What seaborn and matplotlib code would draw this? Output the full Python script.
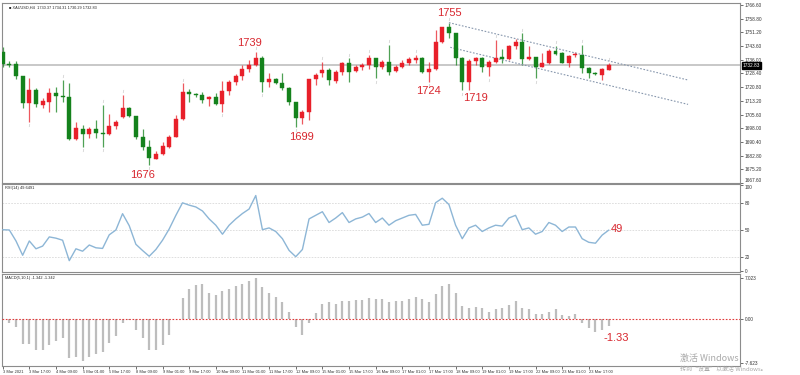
import numpy as np
import pandas as pd
import matplotlib
matplotlib.use("Agg")
import matplotlib.pyplot as plt
import seaborn as sns

# ---------------- data ----------------
opens = [1740.5, 1733.7, 1733.7, 1727.0, 1711.9, 1719.3, 1710.9, 1712.8, 1717.4, 1716.1,
         1715.2, 1691.9, 1697.4, 1694.9, 1697.4, 1695.6, 1694.9, 1699.3, 1704.1, 1709.5,
         1704.8, 1693.4, 1687.5, 1681.0, 1683.8, 1687.5, 1693.4, 1703.2, 1718.3, 1717.0,
         1716.5, 1714.1, 1715.5, 1711.5, 1718.8, 1723.8, 1727.0, 1730.7, 1732.9, 1736.8,
         1723.5, 1725.1, 1722.9, 1720.1, 1712.7, 1703.5, 1707.2, 1725.1, 1728.8, 1730.3,
         1724.4, 1729.4, 1734.4, 1729.9, 1732.2, 1732.9, 1736.8, 1731.8, 1734.9, 1729.6,
         1732.2, 1734.4, 1735.9, 1736.8, 1729.4, 1730.7, 1746.0, 1754.0, 1750.7, 1736.8,
         1723.8, 1735.5, 1737.2, 1731.8, 1734.9, 1737.7, 1736.6, 1743.6, 1746.0, 1736.2,
         1737.7, 1732.2, 1734.0, 1741.0, 1739.9, 1734.0, 1738.6, 1738.6, 1731.2, 1728.8,
         1727.5, 1730.37]
highs = [1743.3, 1735.5, 1735.5, 1727.0, 1725.7, 1720.2, 1714.6, 1720.2, 1721.1, 1724.8,
         1723.0, 1701.7, 1699.9, 1698.6, 1702.6, 1710.9, 1706.0, 1702.6, 1716.5, 1710.0,
         1704.8, 1697.4, 1691.5, 1685.6, 1690.6, 1694.3, 1705.4, 1723.0, 1719.6, 1717.8,
         1718.3, 1716.0, 1717.4, 1724.4, 1724.8, 1728.1, 1733.1, 1735.9, 1740.5, 1738.1,
         1728.8, 1725.7, 1728.5, 1720.7, 1712.7, 1708.1, 1725.1, 1728.5, 1734.9, 1731.2,
         1730.3, 1734.9, 1736.8, 1733.1, 1734.4, 1738.6, 1736.8, 1735.9, 1744.2, 1733.1,
         1735.9, 1737.7, 1738.6, 1737.7, 1734.9, 1752.5, 1754.4, 1756.6, 1751.1, 1737.7,
         1736.2, 1737.7, 1737.7, 1735.9, 1747.0, 1741.8, 1744.2, 1747.3, 1750.7, 1743.6,
         1737.7, 1739.6, 1741.8, 1743.6, 1740.5, 1738.6, 1740.5, 1744.2, 1732.2, 1729.4,
         1731.2, 1734.31]
lows = [1732.2, 1731.8, 1725.2, 1709.1, 1701.7, 1710.0, 1709.1, 1707.2, 1707.2, 1712.8,
        1691.5, 1691.5, 1687.8, 1692.5, 1692.5, 1687.8, 1694.3, 1697.4, 1703.5, 1704.1,
        1691.9, 1686.0, 1677.7, 1680.8, 1683.2, 1686.9, 1693.0, 1702.6, 1712.8, 1715.2,
        1711.9, 1710.4, 1710.9, 1707.2, 1716.4, 1722.0, 1724.8, 1729.4, 1732.5, 1718.3,
        1720.7, 1722.5, 1719.2, 1710.9, 1698.9, 1700.4, 1702.6, 1722.0, 1726.6, 1722.0,
        1722.9, 1727.5, 1723.8, 1729.4, 1730.3, 1730.7, 1725.7, 1730.7, 1727.5, 1729.4,
        1731.2, 1733.1, 1734.4, 1728.5, 1723.8, 1730.3, 1745.5, 1747.9, 1733.1, 1719.2,
        1719.2, 1733.1, 1729.4, 1727.0, 1734.4, 1734.0, 1735.9, 1741.8, 1733.1, 1735.9,
        1725.7, 1731.8, 1733.6, 1738.6, 1734.0, 1731.8, 1737.3, 1728.5, 1725.7, 1727.5,
        1724.8, 1730.29]
closes = [1733.7, 1732.9, 1727.0, 1711.9, 1719.3, 1711.5, 1713.2, 1717.4, 1715.9, 1715.2,
          1691.9, 1698.4, 1694.9, 1697.4, 1695.2, 1694.7, 1699.3, 1701.3, 1709.5, 1704.8,
          1693.4, 1687.5, 1681.4, 1683.8, 1688.2, 1693.4, 1703.2, 1718.3, 1716.9, 1716.5,
          1713.7, 1715.6, 1711.5, 1718.8, 1723.8, 1727.0, 1730.7, 1732.9, 1736.8, 1723.8,
          1725.1, 1723.3, 1720.1, 1712.7, 1703.5, 1707.2, 1725.1, 1727.5, 1730.3, 1724.8,
          1729.4, 1734.4, 1729.4, 1732.2, 1733.1, 1736.8, 1731.8, 1734.9, 1729.4, 1732.2,
          1734.4, 1736.2, 1736.8, 1729.4, 1730.7, 1746.0, 1754.0, 1750.7, 1736.8, 1723.8,
          1735.5, 1737.2, 1731.8, 1734.9, 1737.2, 1736.6, 1743.6, 1746.0, 1736.2, 1737.7,
          1731.8, 1734.0, 1741.0, 1739.2, 1734.0, 1738.1, 1739.2, 1731.2, 1728.5, 1727.9,
          1730.7, 1732.83]

rsi_values = [50.0, 49.7, 37.5, 21.6, 37.5, 28.8, 31.8, 42.0, 40.6, 38.3,
              15.6, 28.8, 26.1, 33.0, 29.9, 29.2, 44.3, 49.7, 67.8, 54.5,
              33.8, 26.9, 20.5, 28.0, 38.3, 50.8, 65.9, 79.9, 77.3, 75.3,
              70.8, 62.0, 55.0, 45.0, 55.0, 62.0, 68.0, 73.0, 88.0, 50.0,
              52.0, 48.0, 40.0, 27.0, 20.0, 28.0, 62.0, 66.0, 70.0, 58.0,
              63.0, 69.0, 58.0, 62.0, 64.0, 68.0, 58.0, 63.0, 55.0, 60.0,
              63.0, 66.0, 67.0, 55.0, 56.0, 80.0, 85.0, 78.0, 55.0, 40.0,
              52.0, 55.0, 48.0, 52.0, 55.0, 54.0, 63.0, 66.0, 50.0, 52.0,
              45.0, 48.0, 58.0, 55.0, 48.0, 53.0, 53.0, 40.0, 36.0, 35.0,
              44.0, 49.6]

macd_values = [-0.3, -0.8, -1.5, -4.4, -4.4, -5.5, -5.5, -4.6, -3.8, -3.4,
               -6.9, -6.6, -7.3, -6.7, -6.1, -5.7, -4.3, -3.0, -0.8, -0.2,
               -1.9, -3.4, -5.4, -5.5, -4.6, -2.8, -0.1, 3.5, 5.2, 5.8,
               6.0, 4.5, 4.0, 4.8, 5.2, 5.6, 6.0, 6.5, 7.0, 5.5,
               4.5, 3.8, 2.8, 1.2, -1.5, -2.8, -0.8, 1.0, 2.5, 2.8,
               2.5, 3.0, 3.0, 3.2, 3.2, 3.6, 3.4, 3.4, 2.8, 3.0,
               3.0, 3.4, 3.8, 3.4, 2.8, 4.2, 5.6, 6.0, 4.5, 2.2,
               1.8, 2.0, 1.8, 1.2, 1.6, 1.8, 2.4, 3.0, 1.8, 1.6,
               0.8, 0.8, 1.2, 1.6, 0.6, 0.5, 0.8, -0.8, -1.6, -2.4,
               -2.0, -1.34]

xtick_labels = ["3 Mar 2021", "3 Mar 17:00", "4 Mar 09:00", "5 Mar 01:00", "5 Mar 17:00",
                "8 Mar 09:00", "9 Mar 01:00", "9 Mar 17:00", "10 Mar 09:00", "11 Mar 01:00",
                "11 Mar 17:00", "12 Mar 09:00", "15 Mar 01:00", "15 Mar 17:00", "16 Mar 09:00",
                "17 Mar 01:00", "17 Mar 17:00", "18 Mar 09:00", "19 Mar 01:00", "19 Mar 17:00",
                "22 Mar 09:00", "23 Mar 01:00", "23 Mar 17:00"]

price_ticks = [1766.60, 1758.80, 1751.20, 1743.60, 1736.00, 1728.40, 1720.80, 1713.20,
               1705.60, 1698.00, 1690.40, 1682.80, 1675.20, 1667.60]
last_price = 1732.83

level_labels = ["1755", "1739", "1724", "1719", "1699", "1676"]
level_bars = [67.0, 37.0, 64.0, 71.0, 44.9, 21.0]
level_prices = [1762.2, 1745.3, 1718.7, 1714.8, 1693.2, 1671.8]

# fractal marks (bar indices)
fractal_up_bars = [9, 15, 18, 27, 38, 48, 52, 55, 58, 62, 67, 74, 78, 83, 87, 91]
fractal_down_bars = [4, 12, 15, 22, 33, 39, 44, 56, 64, 69, 73, 80]

# trend channel (start bar, start price), common slope in price per bar
channel_upper = (67.0, 1756.6)
channel_lower = (67.2, 1742.9)
channel_slope = -0.887
channel_end = 102.9

# ---------------- style ----------------
sns.set_style("white")
plt.rcParams["font.family"] = ["Liberation Sans", "DejaVu Sans"]

W, H = 800, 375
fig = plt.figure(figsize=(8, 3.75), dpi=100)
fig.patch.set_facecolor("white")


def px_axes(x0, y0, x1, y1):
    return fig.add_axes([x0 / W, 1 - y1 / H, (x1 - x0) / W, (y1 - y0) / H])


def fig_text(x, y, s, **kw):
    fig.text(x / W, 1 - y / H, s, **kw)


UP = "#e8202a"
DOWN = "#14821c"
GRID = "#d9d9d9"
FRAME = "#8c8c8c"
LBL = 3.4
XLBL = 2.9

ax_main = px_axes(2, 3, 740, 183)
ax_rsi = px_axes(2, 184, 740, 272)
ax_macd = px_axes(2, 274, 740, 366)

n = len(closes)
xs = np.arange(n)
df = pd.DataFrame({"bar": xs, "open": opens, "high": highs, "low": lows,
                   "close": closes, "rsi": rsi_values, "macd": macd_values})
df["up"] = df["close"] >= df["open"]
df["color"] = np.where(df["up"], UP, DOWN)

for ax in (ax_main, ax_rsi, ax_macd):
    ax.set_xlim(-0.1, 110.7)
    ax.set_facecolor("white")
    for s in ax.spines.values():
        s.set_color(FRAME)
        s.set_linewidth(0.8)
    ax.yaxis.tick_right()
    ax.tick_params(axis="y", labelsize=LBL, length=2, width=0.5, pad=1.5,
                   colors="#333333", right=True, left=False)
    ax.tick_params(axis="x", bottom=False, labelbottom=False)
    ax.grid(False)

# ---- main price panel ----
ax_main.set_ylim(1667.67, 1767.5)
ax_main.axhline(last_price, color="#c4c4c4", lw=1.3, zorder=1)
ax_main.vlines(df["bar"], df["low"], df["high"], colors=df["color"], lw=0.9,
               alpha=0.75, zorder=2)
body_h = (df["close"] - df["open"]).abs().clip(lower=0.35)
body_b = df[["open", "close"]].min(axis=1)
ax_main.bar(df["bar"], body_h, bottom=body_b, width=0.6, color=df["color"],
            edgecolor=df["color"], linewidth=0.3, zorder=3)

ax_main.scatter(fractal_up_bars, df.loc[fractal_up_bars, "high"] + 2.0, marker="$/$",
                s=5, color="#8a8a8a", linewidths=0, zorder=2)
ax_main.scatter(fractal_down_bars, df.loc[fractal_down_bars, "low"] - 2.0, marker="$/$",
                s=5, color="#8a8a8a", linewidths=0, zorder=2)

for (b0, p0) in (channel_upper, channel_lower):
    ax_main.plot([b0, channel_end], [p0, p0 + channel_slope * (channel_end - b0)],
                 color="#8797ad", lw=0.8, ls=(0, (1.5, 1.5)), zorder=2)

for lab, bx, py in zip(level_labels, level_bars, level_prices):
    ax_main.text(bx, py, lab, color="#d8262e", fontsize=8, ha="center", va="center")

ax_main.set_yticks(price_ticks)
ax_main.set_yticklabels([f"{v:.2f}" for v in price_ticks])
ax_main.get_yticklabels()[-1].set_va("bottom")
ax_main.text(1.004, (last_price - 1667.67) / (1767.5 - 1667.67), f"{last_price:.2f}",
             transform=ax_main.transAxes, fontsize=LBL, color="white", va="center",
             ha="left", bbox=dict(boxstyle="square,pad=0.15", fc="black", ec="black"))

# ---- RSI panel ----
ax_rsi.set_ylim(3.0, 100.8)
for lv in (80, 50, 20):
    ax_rsi.axhline(lv, color=GRID, lw=0.6, ls=(0, (2, 1.5)), zorder=1)
sns.lineplot(data=df, x="bar", y="rsi", ax=ax_rsi, color="#8db6d6", lw=1.0,
             legend=False, zorder=3)
ax_rsi.set_xlabel("")
ax_rsi.set_ylabel("")
ax_rsi.set_yticks([100, 80, 50, 20, 3.6])
ax_rsi.set_yticklabels(["100", "80", "50", "20", "0"])
ax_rsi.get_yticklabels()[0].set_va("top")
ax_rsi.text(92.2, 50.8, "49", color="#d8262e", fontsize=8, ha="center", va="center")

# ---- MACD panel ----
ax_macd.set_ylim(-8.2, 7.71)
ax_macd.vlines(df["bar"], 0, df["macd"], colors="#bdbdbd", lw=1.6, zorder=2)
ax_macd.axhline(0, color="#e03a3a", lw=0.8, ls=(0, (1.5, 1.5)), zorder=3)
ax_macd.set_yticks([7.023, 0, -7.623])
ax_macd.set_yticklabels(["7.023", "0.00", "-7.623"])
ax_macd.text(92.1, -3.35, "-1.33", color="#d8262e", fontsize=8, ha="center", va="center")

ax_macd.tick_params(axis="x", bottom=True, labelbottom=True, labelsize=XLBL,
                    length=2, width=0.5, pad=1, colors="#333333")
ax_macd.set_xticks(np.arange(0, 4 * len(xtick_labels), 4))
ax_macd.set_xticklabels(xtick_labels, ha="left")

# ---- header texts ----
fig_text(9, 8, "\u25a0 XAUUSD,H4  1730.37 1734.31 1730.29 1732.83", fontsize=2.8,
         color="#222222", va="center", ha="left")
fig_text(5, 188, "RSI(14) 49.6491", fontsize=2.8, color="#222222", va="center")
fig_text(5, 278, "MACD(5,10,1) -1.342 -1.342", fontsize=2.8, color="#222222", va="center")

# ---- watermark ----
fig_text(680, 358, "激活 Windows", fontsize=6.5, color="#a9a9a9", va="center",
         family=["Noto Sans CJK SC", "DejaVu Sans"])
fig_text(680, 369, "转到“设置”以激活 Windows。", fontsize=4.3, color="#a9a9a9",
         va="center", family=["Noto Sans CJK SC", "DejaVu Sans"])

fig.savefig("out.png", dpi=100, facecolor="white")
